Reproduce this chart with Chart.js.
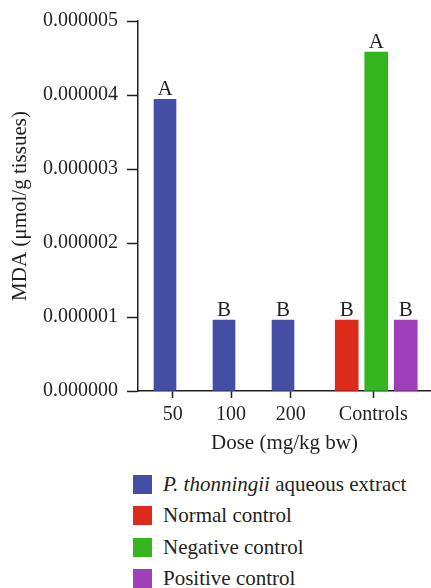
<!DOCTYPE html>
<html>
<head>
<meta charset="utf-8">
<script src="https://cdn.jsdelivr.net/npm/chart.js@4.4.1/dist/chart.umd.min.js"></script>
<style>
  html, body { margin: 0; padding: 0; background: #ffffff; }
  #wrap { position: relative; width: 431px; height: 588px; overflow: hidden; }
  #chart { position: absolute; left: 0; top: 0; }
  #legend { position: absolute; left: 133px; top: 475px; font-family: "Liberation Serif", "Times New Roman", serif; font-size: 21px; color: #231f20; }
  .row { display: flex; align-items: center; height: 19px; margin-bottom: 12.3px; white-space: nowrap; }
  .sw { width: 19px; height: 19px; margin-right: 11px; flex: none; }
</style>
</head>
<body>
<div id="wrap">
  <canvas id="chart" width="431" height="460"></canvas>
  <div id="legend"></div>
</div>
<script>
// ---- data ----
const categories = ["50", "100", "200", "Controls"];
const seriesNames = ["P. thonningii aqueous extract", "Normal control", "Negative control", "Positive control"];
const italicPart = "P. thonningii";
const extractValues = [0.00000394, 0.00000096, 0.00000096];   // doses 50, 100, 200
const normalControl = [0.00000096];
const negativeControl = [0.00000458];
const positiveControl = [0.00000096];
const extractLetters = ["A", "B", "B"];
const normalLetters = ["B"];
const negativeLetters = ["A"];
const positiveLetters = ["B"];
const yTicks = [0, 0.000001, 0.000002, 0.000003, 0.000004, 0.000005];
const xTitle = "Dose (mg/kg bw)";
const yTitle = "MDA (\u03BCmol/g tissues)";

// ---- layout / style ----
const groupPos = [0, 1, 2, 3.58];          // category slots on the x axis
const tickPos = [0.13, 1.12, 2.13, 3.53];  // where the reference puts its category ticks
const controlSpread = 0.5;                 // spacing of the three control bars
const colors = ["#454ea5", "#dc2b1b", "#35b61f", "#a03fba"];
const ink = "#231f20";
const FONT = '"Liberation Serif", "Times New Roman", serif';

const ctrl = groupPos[3];
const datasets = [
  { label: seriesNames[0], backgroundColor: colors[0], barThickness: 22, letters: extractLetters,
    data: extractValues.map((v, i) => ({ x: groupPos[i], y: v })) },
  { label: seriesNames[1], backgroundColor: colors[1], barThickness: 23, letters: normalLetters,
    data: normalControl.map(v => ({ x: ctrl - controlSpread, y: v })) },
  { label: seriesNames[2], backgroundColor: colors[2], barThickness: 23, letters: negativeLetters,
    data: negativeControl.map(v => ({ x: ctrl, y: v })) },
  { label: seriesNames[3], backgroundColor: colors[3], barThickness: 23, letters: positiveLetters,
    data: positiveControl.map(v => ({ x: ctrl + controlSpread, y: v })) }
];

const letterPlugin = {
  id: "letters",
  afterDatasetsDraw(chart) {
    const c = chart.ctx;
    c.save();
    c.font = "21px " + FONT;
    c.fillStyle = ink;
    c.textAlign = "center";
    c.textBaseline = "alphabetic";
    chart.data.datasets.forEach((ds, di) => {
      const meta = chart.getDatasetMeta(di);
      meta.data.forEach((el, i) => {
        const t = ds.letters[i];
        if (t) c.fillText(t, el.x, el.y - 4);
      });
    });
    c.restore();
  }
};

const chart = new Chart(document.getElementById("chart"), {
  type: "bar",
  data: { datasets },
  plugins: [letterPlugin],
  options: {
    responsive: false,
    animation: false,
    grouped: false,
    layout: { padding: { top: 21, right: 0, left: 0, bottom: 0 } },
    plugins: { legend: { display: false }, tooltip: { enabled: false } },
    scales: {
      x: {
        type: "linear",
        offset: false,
        bounds: "data",
        min: -0.4576,
        max: 4.508,
        afterBuildTicks: (axis) => { axis.ticks = tickPos.map(v => ({ value: v })); },
        afterFit: (scale) => { scale.height = 69; },
        ticks: {
          autoSkip: false,
          maxRotation: 0,
          padding: 5,
          color: ink,
          font: { family: FONT, size: 20 },
          callback: (v, i) => categories[i]
        },
        grid: { offset: false, drawOnChartArea: false, drawTicks: true, tickLength: 7, tickWidth: 1.5, tickColor: ink },
        border: { display: true, color: ink, width: 1.5 },
        title: { display: true, text: xTitle, color: ink, font: { family: FONT, size: 21 }, padding: { top: 0, bottom: 4 } }
      },
      y: {
        min: 0,
        max: 0.000005,
        afterBuildTicks: (axis) => { axis.ticks = yTicks.map(v => ({ value: v })); },
        afterFit: (scale) => { scale.width = 138; },
        ticks: {
          padding: 9,
          color: ink,
          font: { family: FONT, size: 20 },
          callback: (v) => Number(v).toFixed(6)
        },
        grid: { drawOnChartArea: false, drawTicks: true, tickLength: 11, tickWidth: 1.5, tickColor: ink },
        border: { display: true, color: ink, width: 1.5 },
        title: { display: true, text: yTitle, color: ink, font: { family: FONT, size: 21 }, padding: { top: 8, bottom: 0 } }
      }
    }
  }
});

// HTML legend built from the chart's own legend items
const legendEl = document.getElementById("legend");
chart.legend.legendItems.forEach((item) => {
  const row = document.createElement("div");
  row.className = "row";
  const sw = document.createElement("span");
  sw.className = "sw";
  sw.style.background = item.fillStyle;
  const txt = document.createElement("span");
  const name = item.text;
  if (name.startsWith(italicPart)) {
    const it = document.createElement("i");
    it.textContent = italicPart;
    txt.appendChild(it);
    txt.appendChild(document.createTextNode(name.slice(italicPart.length)));
  } else {
    txt.textContent = name;
  }
  row.appendChild(sw);
  row.appendChild(txt);
  legendEl.appendChild(row);
});
</script>
</body>
</html>
